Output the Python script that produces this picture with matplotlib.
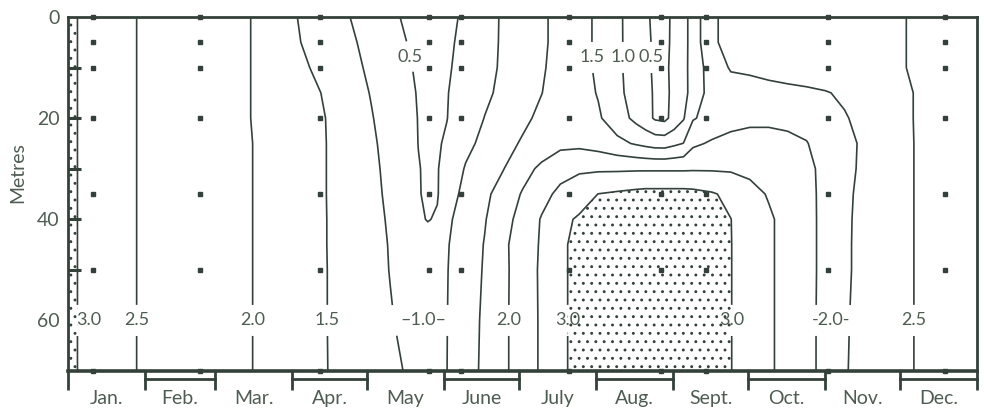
import numpy as np
import matplotlib.pyplot as plt

INK = '#33413a'
TXT = '#4e5d52'
plt.rcParams['font.family'] = ['Lato', 'DejaVu Sans']
plt.rcParams['hatch.color'] = INK
plt.rcParams['hatch.linewidth'] = 0.9

# calendar
month_names = ['Jan.', 'Feb.', 'Mar.', 'Apr.', 'May', 'June',
               'July', 'Aug.', 'Sept.', 'Oct.', 'Nov.', 'Dec.']
month_len = [31, 28, 31, 30, 31, 30, 31, 31, 30, 31, 30, 31]

# grid: columns in months, rows in metres
grid_month = [0, 0.5, 1, 1.5, 2, 2.5, 3, 3.25, 3.5, 3.75, 4, 4.25, 4.5,
              4.625, 4.75, 4.875, 5, 5.25, 5.5, 5.75, 6, 6.25, 6.5, 6.75,
              7, 7.25, 7.5, 7.625, 7.75, 7.875, 8, 8.125, 8.25, 8.5, 8.75,
              9, 9.25, 9.5, 9.75, 10, 10.25, 10.5, 11, 11.5, 12]
depth_m = [0, 5, 10, 15, 20, 25, 30, 35, 40, 45, 50, 60, 70]

temp = [
    [3.08, 2.76, 2.44, 2.30, 2.14, 1.97, 1.52, 1.34, 1.16, 0.98, 0.78, 0.58, 0.43, 0.36, 0.30, 0.36, 0.41, 0.56, 0.82, 1.06, 1.25, 1.43, 1.63, 1.66, 1.42, 1.10, 0.75, 0.57, 0.41, 0.41, 0.57, 0.85, 1.18, 1.98, 2.04, 2.09, 2.14, 2.19, 2.24, 2.29, 2.33, 2.38, 2.48, 2.63, 2.80],
    [3.08, 2.76, 2.44, 2.30, 2.14, 1.97, 1.55, 1.38, 1.21, 1.05, 0.86, 0.66, 0.48, 0.41, 0.34, 0.37, 0.43, 0.60, 0.84, 1.06, 1.25, 1.43, 1.63, 1.66, 1.42, 1.10, 0.76, 0.58, 0.44, 0.42, 0.57, 0.85, 1.18, 1.98, 2.04, 2.09, 2.14, 2.19, 2.24, 2.29, 2.33, 2.38, 2.48, 2.63, 2.80],
    [3.08, 2.76, 2.44, 2.30, 2.14, 1.97, 1.63, 1.46, 1.29, 1.11, 0.92, 0.73, 0.53, 0.45, 0.38, 0.39, 0.45, 0.64, 0.86, 1.07, 1.26, 1.45, 1.66, 1.67, 1.42, 1.10, 0.76, 0.58, 0.445, 0.43, 0.59, 0.86, 1.18, 1.75, 2.04, 2.07, 2.12, 2.17, 2.22, 2.27, 2.32, 2.37, 2.48, 2.63, 2.80],
    [3.08, 2.76, 2.44, 2.30, 2.14, 1.97, 1.69, 1.56, 1.39, 1.18, 0.98, 0.77, 0.57, 0.475, 0.41, 0.42, 0.48, 0.69, 0.91, 1.11, 1.30, 1.49, 1.70, 1.69, 1.47, 1.125, 0.78, 0.60, 0.46, 0.43, 0.57, 0.85, 1.18, 1.72, 1.80, 1.84, 1.88, 1.905, 1.93, 1.975, 2.06, 2.185, 2.44, 2.63, 2.80],
    [3.08, 2.76, 2.44, 2.30, 2.14, 1.97, 1.71, 1.59, 1.44, 1.23, 1.03, 0.81, 0.59, 0.49, 0.425, 0.43, 0.49, 0.745, 1.01, 1.20, 1.40, 1.60, 1.80, 1.76, 1.56, 1.235, 0.87, 0.68, 0.44, 0.38, 0.67, 0.96, 1.46, 1.67, 1.85, 1.885, 1.92, 1.92, 1.92, 1.90, 1.97, 2.10, 2.44, 2.63, 2.80],
    [3.08, 2.76, 2.44, 2.30, 2.14, 1.98, 1.715, 1.59, 1.45, 1.26, 1.07, 0.86, 0.615, 0.495, 0.44, 0.46, 0.55, 0.87, 1.13, 1.345, 1.55, 1.71, 1.88, 1.89, 1.80, 1.62, 1.45, 1.37, 1.30, 1.29, 1.40, 1.51, 1.91, 2.06, 2.13, 2.20, 2.14, 2.075, 2.01, 1.90, 1.92, 2.04, 2.44, 2.62, 2.80],
    [3.08, 2.76, 2.44, 2.30, 2.14, 1.98, 1.72, 1.59, 1.45, 1.275, 1.10, 0.89, 0.64, 0.515, 0.45, 0.48, 0.625, 1.04, 1.27, 1.49, 1.82, 2.10, 2.33, 2.42, 2.43, 2.43, 2.44, 2.44, 2.44, 2.44, 2.44, 2.44, 2.45, 2.45, 2.44, 2.375, 2.31, 2.20, 2.07, 1.92, 1.92, 2.05, 2.44, 2.62, 2.80],
    [3.08, 2.76, 2.44, 2.30, 2.14, 1.98, 1.72, 1.59, 1.45, 1.28, 1.115, 0.92, 0.66, 0.52, 0.45, 0.47, 0.75, 1.15, 1.40, 1.70, 2.04, 2.35, 2.61, 2.81, 3.005, 3.065, 3.125, 3.15, 3.15, 3.15, 3.15, 3.15, 3.13, 3.045, 2.89, 2.67, 2.46, 2.27, 2.09, 1.915, 1.93, 2.08, 2.44, 2.62, 2.80],
    [3.08, 2.76, 2.44, 2.30, 2.14, 1.98, 1.72, 1.59, 1.455, 1.29, 1.13, 0.955, 0.73, 0.56, 0.48, 0.54, 0.91, 1.21, 1.47, 1.82, 2.18, 2.53, 2.90, 3.05, 3.08, 3.13, 3.18, 3.18, 3.18, 3.18, 3.18, 3.18, 3.16, 3.07, 3.005, 2.79, 2.57, 2.34, 2.10, 1.91, 1.94, 2.09, 2.44, 2.62, 2.80],
    [3.08, 2.76, 2.44, 2.30, 2.14, 1.98, 1.72, 1.59, 1.455, 1.30, 1.14, 0.98, 0.78, 0.68, 0.68, 0.82, 0.965, 1.24, 1.52, 1.91, 2.24, 2.55, 2.95, 3.08, 3.10, 3.15, 3.20, 3.20, 3.20, 3.20, 3.20, 3.20, 3.18, 3.09, 3.01, 2.80, 2.57, 2.34, 2.10, 1.91, 1.94, 2.10, 2.44, 2.62, 2.80],
    [3.08, 2.76, 2.44, 2.30, 2.14, 1.98, 1.72, 1.59, 1.46, 1.30, 1.15, 0.99, 0.81, 0.72, 0.78, 0.88, 0.98, 1.26, 1.54, 1.90, 2.24, 2.57, 2.95, 3.08, 3.10, 3.15, 3.20, 3.20, 3.20, 3.20, 3.20, 3.20, 3.18, 3.10, 3.01, 2.80, 2.57, 2.34, 2.10, 1.91, 1.94, 2.10, 2.44, 2.62, 2.80],
    [3.08, 2.76, 2.44, 2.30, 2.14, 1.98, 1.72, 1.59, 1.46, 1.32, 1.17, 1.03, 0.89, 0.81, 0.86, 0.925, 0.99, 1.28, 1.58, 1.91, 2.24, 2.56, 2.95, 3.08, 3.10, 3.15, 3.20, 3.20, 3.20, 3.20, 3.20, 3.20, 3.18, 3.10, 3.01, 2.80, 2.57, 2.34, 2.10, 1.90, 1.96, 2.11, 2.44, 2.62, 2.80],
    [3.08, 2.76, 2.44, 2.30, 2.14, 1.98, 1.72, 1.59, 1.465, 1.34, 1.215, 1.09, 0.96, 0.89, 0.87, 0.93, 0.995, 1.29, 1.60, 1.91, 2.24, 2.56, 2.95, 3.08, 3.10, 3.15, 3.20, 3.20, 3.20, 3.20, 3.20, 3.20, 3.18, 3.10, 3.01, 2.80, 2.57, 2.34, 2.10, 1.90, 1.97, 2.12, 2.44, 2.62, 2.80],
]
levels = [0.5, 1.0, 1.5, 2.0, 2.5, 3.0]

# sampling stations (day of year) and sampled depths
station_day = [10, 53, 101, 145, 158, 201, 238, 256, 305, 352]
station_depth = [0, 5, 10, 20, 35, 50, 70]

x = np.array(grid_month) * 365 / 12
z = np.array(temp)
edges = np.concatenate([[0], np.cumsum(month_len)])
mids = (edges[:-1] + edges[1:]) / 2

fig = plt.figure(figsize=(9.84, 4.11), dpi=100)
ax = fig.add_axes([0.0691, 0.0973, 0.9238, 0.8613])

ax.contourf(x, depth_m, z, levels=[3.0, 4.0], colors='none', hatches=['..'])
cs = ax.contour(x, depth_m, z, levels=levels, colors=INK, linewidths=1.2)

spots = [(27.7, 60), (74, 60), (104, 60), (177, 60), (201, 60),
         (267, 60), (338.5, 60), (135.6, 8), (211, 8), (223, 8), (233, 8)]
gap_spots = [(4, 60), (131, 60), (152, 60), (300, 60), (313, 60)]
ax.clabel(cs, manual=spots + gap_spots, inline=True, fmt='%.1f', fontsize=13,
          colors=TXT, inline_spacing=3)
for t in cs.labelTexts:
    t.set_rotation(0)
    px, py = t.get_position()
    if py > 50 and (px < 10 or 125 < px < 160 or 290 < px < 320):
        t.set_text('')
ax.text(8.5, 60, '3.0', ha='center', va='center', fontsize=13, color=TXT)
ax.text(142.5, 60, '–1.0–', ha='center', va='center', fontsize=13, color=TXT)
ax.text(306.5, 60, '-2.0-', ha='center', va='center', fontsize=13, color=TXT)

sx, sy = np.meshgrid(station_day, station_depth)
ax.plot(sx.ravel(), sy.ravel(), 's', ms=2.2, color=INK, ls='none', clip_on=False)

ax.set_xlim(0, 365)
ax.set_ylim(70, 0)

ax.set_xticks(edges)
ax.set_xticklabels([])
ax.set_xticks(mids, minor=True)
ax.set_xticklabels(month_names, minor=True, fontsize=14, color=TXT)
ax.tick_params(axis='x', which='major', direction='out', length=14, width=2, color=INK)
ax.tick_params(axis='x', which='minor', length=0, pad=14)
for i in range(1, 12, 2):
    ax.plot([edges[i], edges[i + 1]], [-0.023, -0.023], color=INK, lw=2,
            transform=ax.get_xaxis_transform(), clip_on=False)

ax.yaxis.remove_overlapping_locs = False
ax.set_yticks([0, 20, 40, 60])
ax.set_yticklabels(['0', '20', '40', '60'], fontsize=14, color=TXT)
ax.set_yticks([10, 20, 30, 40, 50], minor=True)
ax.tick_params(axis='y', which='major', length=0, pad=6)
ax.tick_params(axis='y', which='minor', direction='in', length=9, width=2.2, color=INK)
ax.set_ylabel('Metres', fontsize=14, color=TXT)
ax.yaxis.set_label_coords(-0.046, 0.56)

for side in ax.spines:
    ax.spines[side].set_linewidth(2)
    ax.spines[side].set_color(INK)
ax.spines['bottom'].set_linewidth(2.6)

fig.savefig('out.png', dpi=100)
